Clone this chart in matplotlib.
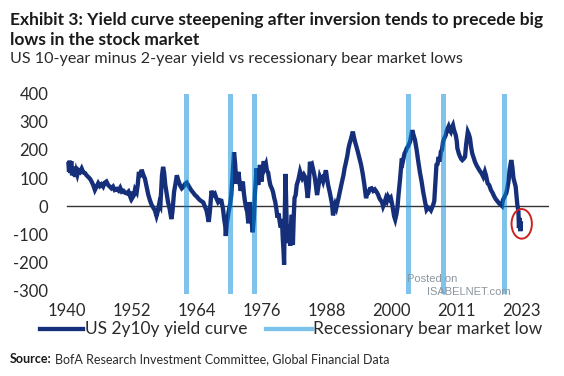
import numpy as np
import matplotlib
matplotlib.use("Agg")
from matplotlib import pyplot as plt
from matplotlib.lines import Line2D
from matplotlib.patches import Ellipse

plt.rcParams['font.family'] = ['Lato', 'DejaVu Sans']

# 10y - 2y spread (bp)
years = [
    1941.0, 1941.1, 1941.2, 1941.35, 1941.5, 1941.65, 1941.8, 1942.0, 1942.2, 1942.4,
    1942.6, 1942.8, 1943.1, 1943.4, 1943.7, 1944.0, 1944.3, 1944.6, 1944.9, 1945.2,
    1945.5, 1945.8, 1946.1, 1946.4, 1946.7, 1947.0, 1947.3, 1947.6, 1947.9, 1948.2,
    1948.5, 1948.8, 1949.1, 1949.4, 1949.8, 1950.1, 1950.4, 1950.7, 1951.0, 1951.3,
    1951.6, 1951.9, 1952.2, 1952.4, 1952.6, 1952.9, 1953.1, 1953.4, 1953.6, 1953.8,
    1954.1, 1954.3, 1954.6, 1954.9, 1955.2, 1955.5, 1955.8, 1956.1, 1956.4, 1956.7,
    1957.0, 1957.2, 1957.5, 1957.7, 1958.0, 1958.2, 1958.4, 1958.6, 1958.9, 1959.1,
    1959.4, 1959.7, 1959.9, 1960.2, 1960.5, 1960.7, 1961.0, 1961.3, 1961.6, 1961.9,
    1962.2, 1962.5, 1962.8, 1963.1, 1963.4, 1963.7, 1964.0, 1964.3, 1964.6, 1964.9,
    1965.2, 1965.5, 1965.8, 1966.1, 1966.3, 1966.5, 1966.7, 1967.0, 1967.3, 1967.6,
    1967.9, 1968.2, 1968.5, 1968.8, 1969.1, 1969.3, 1969.5, 1969.6, 1969.8, 1970.1,
    1970.4, 1970.6, 1970.9, 1971.1, 1971.3, 1971.5, 1971.7, 1971.9, 1972.1, 1972.3,
    1972.5, 1972.7, 1972.9, 1973.1, 1973.3, 1973.5, 1973.7, 1973.9, 1974.1, 1974.3,
    1974.5, 1974.7, 1974.9, 1975.2, 1975.4, 1975.5, 1975.8, 1976.0, 1976.1, 1976.3,
    1976.5, 1976.7, 1976.9, 1977.1, 1977.3, 1977.5, 1977.7, 1978.0, 1978.2, 1978.4,
    1978.6, 1978.8, 1979.0, 1979.2, 1979.4, 1979.6, 1979.8, 1979.95, 1980.1, 1980.2,
    1980.3, 1980.45, 1980.55, 1980.7, 1980.9, 1981.0, 1981.2, 1981.3, 1981.5, 1981.6,
    1981.7, 1981.8, 1981.95, 1982.1, 1982.3, 1982.5, 1982.8, 1983.1, 1983.3, 1983.5,
    1983.8, 1984.0, 1984.2, 1984.5, 1984.7, 1984.9, 1985.1, 1985.3, 1985.6, 1985.8,
    1986.0, 1986.2, 1986.4, 1986.7, 1986.9, 1987.1, 1987.3, 1987.6, 1987.8, 1988.0,
    1988.2, 1988.5, 1988.7, 1988.9, 1989.1, 1989.3, 1989.5, 1989.7, 1989.9, 1990.1,
    1990.4, 1990.7, 1991.0, 1991.2, 1991.4, 1991.7, 1991.9, 1992.1, 1992.3, 1992.5,
    1992.7, 1992.9, 1993.1, 1993.3, 1993.6, 1993.9, 1994.2, 1994.5, 1994.8, 1995.0,
    1995.1, 1995.3, 1995.5, 1995.8, 1996.1, 1996.4, 1996.7, 1997.0, 1997.3, 1997.5,
    1997.7, 1998.0, 1998.2, 1998.4, 1998.7, 1998.9, 1999.1, 1999.4, 1999.6, 1999.8,
    2000.0, 2000.2, 2000.4, 2000.6, 2000.8, 2001.0, 2001.3, 2001.6, 2001.8, 2002.1,
    2002.3, 2002.5, 2002.8, 2003.1, 2003.3, 2003.5, 2003.7, 2004.0, 2004.3, 2004.6,
    2004.9, 2005.2, 2005.5, 2005.8, 2006.1, 2006.4, 2006.6, 2006.9, 2007.1, 2007.3,
    2007.5, 2007.7, 2007.9, 2008.1, 2008.3, 2008.5, 2008.7, 2008.9, 2009.1, 2009.3,
    2009.6, 2009.8, 2010.1, 2010.3, 2010.5, 2010.7, 2010.9, 2011.1, 2011.4, 2011.6,
    2011.7, 2012.0, 2012.2, 2012.4, 2012.6, 2012.9, 2013.1, 2013.3, 2013.6, 2013.8,
    2014.0, 2014.2, 2014.4, 2014.7, 2014.9, 2015.2, 2015.5, 2015.8, 2016.1, 2016.4,
    2016.7, 2016.9, 2017.2, 2017.5, 2017.8, 2018.1, 2018.4, 2018.7, 2019.0, 2019.3,
    2019.6, 2019.8, 2020.0, 2020.3, 2020.6, 2020.8, 2021.0, 2021.2, 2021.5, 2021.7,
    2021.9, 2022.1, 2022.3, 2022.5, 2022.6, 2022.8, 2022.9, 2023.0, 2023.15, 2023.25,
]
spread = [
    150, 122, 162, 118, 160, 110, 140, 125, 105, 125,
    112, 128, 122, 134, 120, 118, 110, 104, 98, 88,
    75, 58, 70, 82, 72, 78, 70, 84, 88, 76,
    70, 64, 70, 58, 62, 56, 66, 52, 55, 48,
    46, 52, 36, 52, 30, 40, 60, 50, 78, 122,
    104, 130, 112, 98, 70, 42, 22, 6, -4, -14,
    -34, -20, 10, 2, 110, 140, 118, 76, 40, 15,
    -10, -45, -20, 52, 85, 110, 90, 74, 64, 70,
    80, 84, 74, 64, 55, 48, 40, 35, 28, 22,
    18, 14, 0, -15, -35, -55, -20, 55, 40, 45,
    28, 15, 22, 20, -10, -45, -70, -105, -60, -20,
    10, 40, 135, 192, 150, 80, 100, 122, 90, 55,
    75, 88, 45, 15, -5, -20, -60, 15, -15, -55,
    -92, -40, 45, 135, 95, 76, 147, 110, 88, 130,
    160, 140, 150, 125, 120, 95, 75, 62, 50, 30,
    15, -10, -40, -25, -55, -75, -45, -110, -160, -207,
    -60, 115, 40, -90, -130, -65, -100, -140, -60, -30,
    -90, -137, -40, 30, 40, 76, 95, 123, 110, 100,
    112, 105, 80, 30, 70, 158, 140, 146, 120, 100,
    70, 40, 65, 105, 95, 100, 88, 110, 128, 100,
    76, 50, 30, 10, -32, -10, 6, -5, 12, 30,
    58, 85, 111, 135, 152, 180, 205, 222, 235, 250,
    265, 245, 229, 215, 194, 170, 147, 115, 76, 45,
    29, 45, 47, 62, 64, 55, 60, 52, 41, 30,
    23, 15, 0, 10, 29, 20, 35, 25, 30, 12,
    -10, -35, -47, -30, -6, 40, 100, 170, 160, 188,
    195, 206, 215, 229, 250, 270, 255, 235, 200, 158,
    120, 88, 50, 18, -12, -4, -6, -14, -4, 5,
    18, 80, 147, 150, 175, 159, 194, 200, 229, 240,
    253, 270, 283, 270, 264, 280, 288, 270, 253, 230,
    206, 185, 176, 168, 164, 170, 176, 220, 264, 255,
    241, 210, 188, 170, 158, 145, 135, 125, 117, 105,
    123, 110, 82, 75, 58, 48, 35, 25, 18, 10,
    6, 2, 23, 35, 47, 65, 88, 130, 164, 140,
    100, 85, 70, 30, 6, -18, -77, -41, -88, -60,
]

# recessionary bear market lows
bear_lows = [1962.5, 1970.4, 1974.75, 2002.75, 2009.15, 2020.25]

y_ticks = [-300, -200, -100, 0, 100, 200, 300, 400]
x_tick_labels = ['1940', '1952', '1964', '1976', '1988', '2000', '2011', '2023']

navy = '#162f7a'
light_blue = '#7cc3ec'
txt = '#2a2a2a'

fig = plt.figure(figsize=(5.64, 3.76), dpi=100)
ax = fig.add_axes([0.1068, 0.2186, 0.866, 0.5327])
x0, x1 = 1939.5, 2028.3
ax.set_xlim(x0, x1)
ax.set_ylim(-310, 400)

ax.plot(years, spread, color=navy, lw=3.1, solid_joinstyle='miter', zorder=2)
ax.axhline(0, xmin=(years[0] - 0.3 - x0) / (x1 - x0), xmax=1, color='#333333', lw=1.0, zorder=1)
for yr in bear_lows:
    ax.axvspan(yr - 0.45, yr + 0.45, color='#0087d7', alpha=0.5, lw=0, zorder=3)

# red circle round the latest inversion
ax.add_patch(Ellipse((2023.4, -62), 3.7, 105, fill=False, edgecolor='#cc2222', lw=1.4, zorder=4))

for s in ax.spines.values():
    s.set_visible(False)
ax.set_yticks(y_ticks)
ax.set_yticklabels([str(v) for v in y_ticks])
ax.set_xticks(np.linspace(1940.7, 2023.3, len(x_tick_labels)))
ax.set_xticklabels(x_tick_labels)
ax.tick_params(axis='both', length=0, labelsize=12, labelcolor=txt)
ax.tick_params(axis='y', pad=8.5)
ax.tick_params(axis='x', pad=6.5)

# watermark
fig.text(407 / 564, 1 - 282 / 376, 'Posted on', fontsize=8, color='#8c96a0',
         family=['Liberation Sans', 'DejaVu Sans'], va='baseline')
fig.text(427 / 564, 1 - 295 / 376, 'ISABELNET.com', fontsize=8, color='#8c96a0',
         family=['Liberation Sans', 'DejaVu Sans'], va='baseline')

# titles
fig.text(0.018, 1 - 25 / 376, 'Exhibit 3: Yield curve steepening after inversion tends to precede big',
         fontsize=12.5, fontweight='bold', color='#1a1a1a', va='baseline')
fig.text(0.018, 1 - 45 / 376, 'lows in the stock market',
         fontsize=12.5, fontweight='bold', color='#1a1a1a', va='baseline')
fig.text(0.018, 1 - 63 / 376, 'US 10-year minus 2-year yield vs recessionary bear market lows',
         fontsize=11.6, color=txt, va='baseline')

# legend
ly = 1 - 329 / 376
fig.add_artist(Line2D([40 / 564, 83 / 564], [ly, ly], color=navy, lw=3.1))
fig.text(85 / 564, ly, 'US 2y10y yield curve', fontsize=12.5, color=txt, va='center')
fig.add_artist(Line2D([266 / 564, 312 / 564], [ly, ly], color=light_blue, lw=3.1))
fig.text(313 / 564, ly, 'Recessionary bear market low', fontsize=12.5, color=txt, va='center')

# source
fig.text(0.018, 1 - 363 / 376, 'Source:', fontsize=9, fontweight='bold', color='#1a1a1a', va='baseline')
fig.text(0.098, 1 - 363 / 376, 'BofA Research Investment Committee, Global Financial Data',
         fontsize=9, color=txt, va='baseline')

fig.savefig('out.png', dpi=100)
